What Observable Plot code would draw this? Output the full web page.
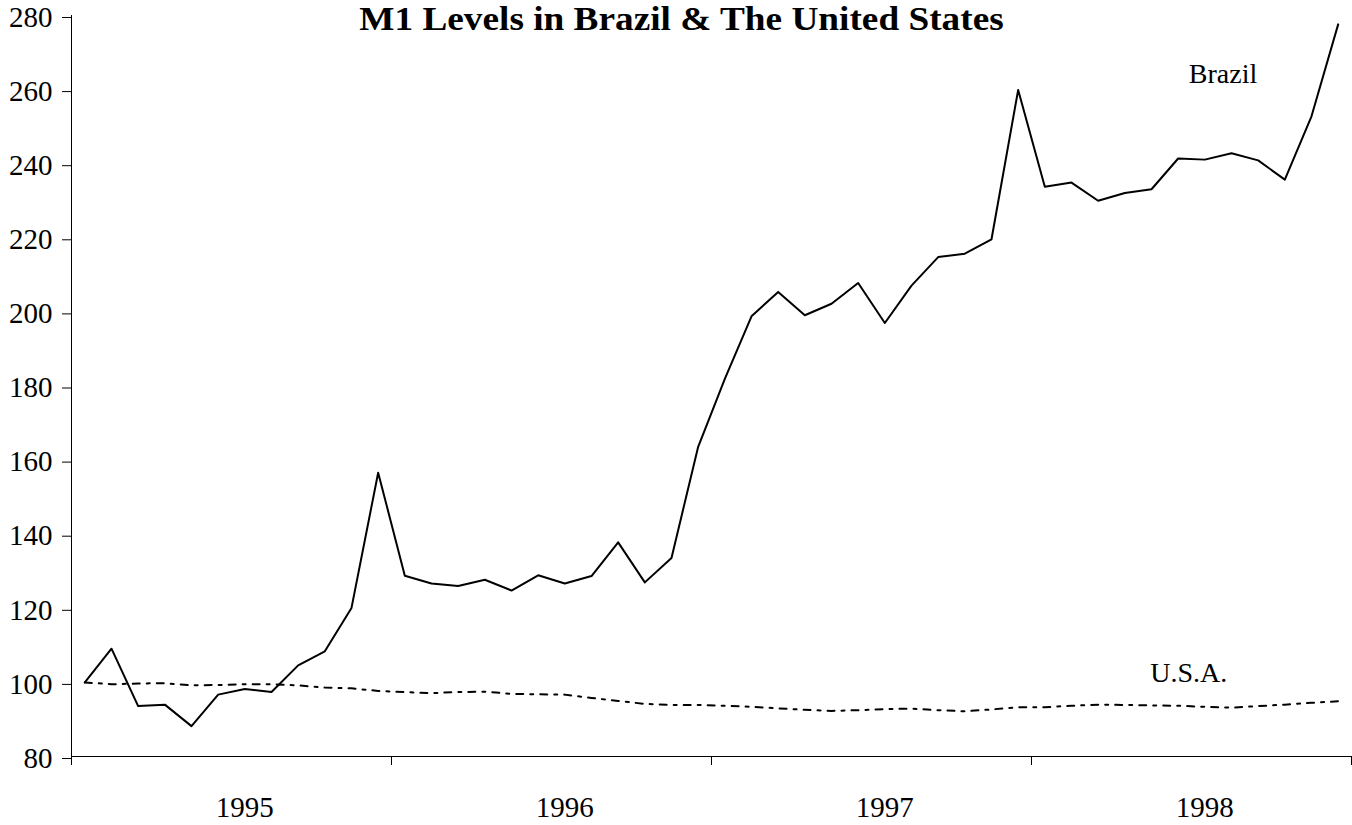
<!DOCTYPE html>
<html><head><meta charset="utf-8">
<script src="https://cdn.jsdelivr.net/npm/d3@7"></script>
<script src="https://cdn.jsdelivr.net/npm/@observablehq/plot@0.6"></script>
<style>html,body{margin:0;padding:0;background:#fff} svg{display:block}</style>
</head><body><div id="chart"></div>
<script>
const title = "M1 Levels in Brazil & The United States";
const years = ["1995", "1996", "1997", "1998"];
const yTicks = [80, 100, 120, 140, 160, 180, 200, 220, 240, 260, 280];
const brazil = [100, 109.1, 93.6, 94.0, 88.2, 96.7, 98.2, 97.4, 104.6, 108.4, 120.1, 156.6,
  128.8, 126.7, 126.0, 127.7, 124.8, 128.9, 126.7, 128.7, 137.8, 127.0, 133.6, 163.6,
  181.9, 198.8, 205.4, 199.1, 202.2, 207.8, 197.0, 207.1, 214.8, 215.7, 219.6, 259.9,
  233.8, 234.9, 230.0, 232.1, 233.1, 241.4, 241.1, 242.8, 240.9, 235.7, 252.8, 277.6];
const usa = [100, 99.5, 99.7, 99.8, 99.2, 99.3, 99.5, 99.5, 99.2, 98.6, 98.4, 97.7,
  97.4, 97.1, 97.4, 97.5, 96.9, 96.8, 96.7, 95.8, 95.0, 94.2, 93.9, 93.9,
  93.7, 93.4, 93.0, 92.6, 92.3, 92.5, 92.8, 92.9, 92.5, 92.2, 92.7, 93.3,
  93.3, 93.7, 94.0, 93.9, 93.8, 93.7, 93.4, 93.2, 93.6, 94.0, 94.5, 94.9];
const seriesLabels = ["Brazil", "U.S.A."];

const data = brazil.map((v, i) => ({i, brazil: v, usa: usa[i]}));
const monthsPerYear = 12;
const yearBounds = years.map((y, k) => k * monthsPerYear).concat([years.length * monthsPerYear]);
const yearMids = years.map((y, k) => k * monthsPerYear + 6.5);

const chart = Plot.plot({
  width: 1352, height: 825,
  marginLeft: 71, marginRight: 1, marginTop: 15, marginBottom: 69,
  style: {fontFamily: "'Liberation Serif', 'Times New Roman', serif", fontSize: "28px", color: "#000", background: "#fff"},
  x: {domain: [0, years.length * monthsPerYear], axis: null},
  y: {domain: [80, 280], axis: null},
  marks: [
    Plot.axisY({ticks: yTicks, tickSize: 9, tickPadding: 10, fontSize: 29, dy: 2, tickFormat: d => String(d)}),
    Plot.axisX({ticks: yearBounds, tickSize: 9, tickFormat: () => ""}),
    Plot.axisX({ticks: yearMids, tickSize: 0, tickPadding: 40, fontSize: 29, tickFormat: d => years[Math.floor(d / monthsPerYear)]}),
    Plot.ruleX([0], {stroke: "#000", strokeWidth: 1}),
    Plot.ruleY([80], {stroke: "#000", strokeWidth: 1}),
    Plot.lineY(data, {x: d => d.i + 0.5, y: "usa", stroke: "#000", strokeWidth: 2, strokeDasharray: "7,7,3,7"}),
    Plot.lineY(data, {x: d => d.i + 0.5, y: "brazil", stroke: "#000", strokeWidth: 2}),
    Plot.text([seriesLabels[0]], {x: 41.9, y: 261.9, text: d => d, textAnchor: "start", lineAnchor: "bottom", fontSize: 28}),
    Plot.text([seriesLabels[1]], {x: 40.45, y: 100.0, text: d => d, textAnchor: "start", lineAnchor: "bottom", fontSize: 28}),
    Plot.text([title], {frameAnchor: "top", dx: -30, dy: 14, lineAnchor: "bottom", fontWeight: "bold", fontSize: 33, text: d => d})
  ]
});
document.getElementById("chart").appendChild(chart);
const sx = 1.13;
chart.querySelectorAll("text").forEach(t => {
  if (t.textContent !== title) return;
  const tr = t.getAttribute("transform");
  if (tr && tr.includes("translate")) {
    t.setAttribute("transform", tr + ` scale(${sx},1)`);
  } else {
    const x = +(t.getAttribute("x") || 0);
    t.setAttribute("x", x / sx);
    t.setAttribute("transform", `scale(${sx},1)`);
  }
});
</script>
</body></html>
